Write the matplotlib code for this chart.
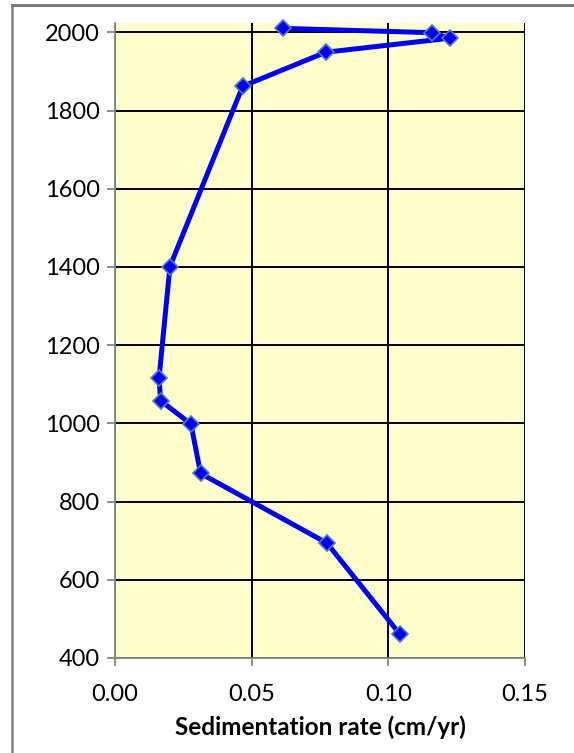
import matplotlib
matplotlib.use('Agg')
import matplotlib.pyplot as plt
from matplotlib.lines import Line2D
from matplotlib.ticker import FormatStrFormatter

# sedimentation rate (cm/yr) vs year
rate = [0.0616, 0.1158, 0.1225, 0.0771, 0.0467, 0.0201, 0.0161, 0.0167,
        0.0278, 0.0313, 0.0775, 0.1042]
year = [2010, 1999, 1985, 1949, 1862, 1401, 1115, 1058, 998, 872, 694, 461]

xticks = [0.00, 0.05, 0.10, 0.15]
yticks = list(range(400, 2001, 200))

plt.rcParams['font.family'] = ['Lato', 'DejaVu Sans']

fig = plt.figure(figsize=(5.74, 7.53), dpi=100)
ax = fig.add_axes([115 / 574, 1 - 658 / 753, 410 / 574, (658 - 23.3) / 753])
ax.set_facecolor('#FFFFCC')

# outer chart border (cut off at right and bottom)
bx, by = 12 / 574, 1 - 5 / 753
fig.add_artist(Line2D([bx, bx], [0.0, by], transform=fig.transFigure,
                      color='#808080', linewidth=1.8, zorder=10))
fig.add_artist(Line2D([bx, 1.0], [by, by], transform=fig.transFigure,
                      color='#7A7A7A', linewidth=2.2, zorder=10))

ax.plot(rate, year, color='#0000FF', linewidth=3.6, marker='D',
        markersize=8.5, markerfacecolor='#0000FF',
        markeredgecolor='#4A7EBB', markeredgewidth=1.2, zorder=3,
        clip_on=False)

ax.set_xlim(0, 0.15)
ax.set_ylim(400, 2023)
ax.set_xticks(xticks)
ax.set_yticks(yticks)
ax.xaxis.set_major_formatter(FormatStrFormatter('%.2f'))
ax.grid(True, color='black', linewidth=1.4)
ax.set_axisbelow(True)

for s in ['top', 'right']:
    ax.spines[s].set_visible(False)
for s in ['left', 'bottom']:
    ax.spines[s].set_color('#868686')
    ax.spines[s].set_linewidth(1.3)

ax.tick_params(axis='both', direction='out', length=6, width=1.3,
               color='#868686', labelsize=17, labelcolor='black')
ax.tick_params(axis='y', pad=5)
ax.tick_params(axis='x', pad=13)

ax.set_xlabel('Sedimentation rate (cm/yr)', fontsize=17.5, fontweight='bold',
              labelpad=7)

fig.savefig('out.png', dpi=100)
